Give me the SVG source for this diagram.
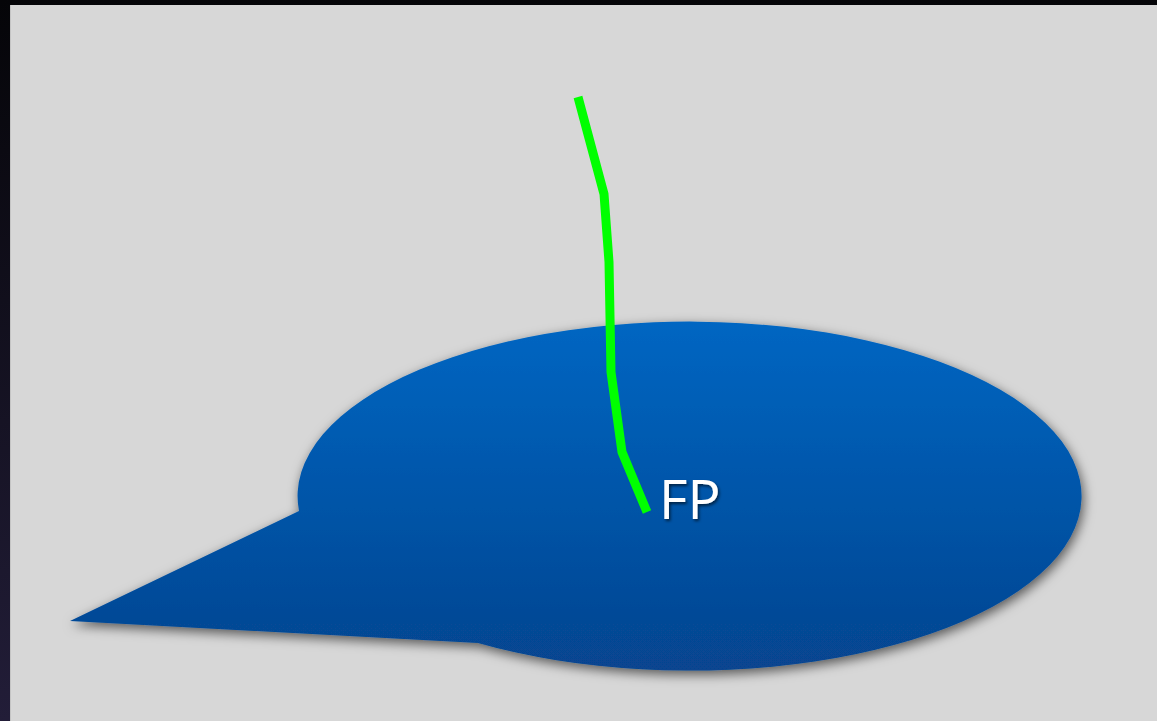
<svg xmlns="http://www.w3.org/2000/svg" width="1157" height="721" viewBox="0 0 1157 721">
  <defs>
    <linearGradient id="bg" x1="0" y1="0" x2="0" y2="1">
      <stop offset="0" stop-color="#050508"/>
      <stop offset="1" stop-color="#221d38"/>
    </linearGradient>
    <linearGradient id="blue" x1="0" y1="323" x2="0" y2="672" gradientUnits="userSpaceOnUse">
      <stop offset="0" stop-color="#0066c2"/>
      <stop offset="1" stop-color="#07448f"/>
    </linearGradient>
    <filter id="shadow" x="-10%" y="-10%" width="125%" height="130%">
      <feDropShadow dx="2" dy="4" stdDeviation="6" flood-color="#000" flood-opacity="0.6"/>
    </filter>
    <filter id="tshadow" x="-20%" y="-20%" width="150%" height="150%">
      <feDropShadow dx="1.5" dy="2" stdDeviation="1.5" flood-color="#000" flood-opacity="0.6"/>
    </filter>
    <style>
      .wire { fill: none; stroke: #00ff00; stroke-width: 9; stroke-linejoin: miter; }
      .label { font-family: "Open Sans", "Noto Sans", sans-serif; font-size: 55px; fill: #ffffff; }
    </style>
  </defs>
  <rect x="0" y="0" width="1157" height="721" fill="url(#bg)"/>
  <rect x="10" y="5" width="1147" height="716" fill="#d7d7d7"/>
  <line x1="10.5" y1="5" x2="10.5" y2="721" stroke="#c4c4c4" stroke-width="1"/>
  <g id="bubble">
    <path d="M 299 511 L 70 621 L 478 643 A 392 174.5 0 1 0 299 511 Z" fill="url(#blue)" filter="url(#shadow)"/>
  </g>
  <g id="connectors">
    <polyline class="wire" points="578,97 604,194 609,262 611,372 622,452 647,512"/>
  </g>
  <g id="fp">
    <text class="label" x="659" y="519" filter="url(#tshadow)">FP</text>
  </g>
</svg>
